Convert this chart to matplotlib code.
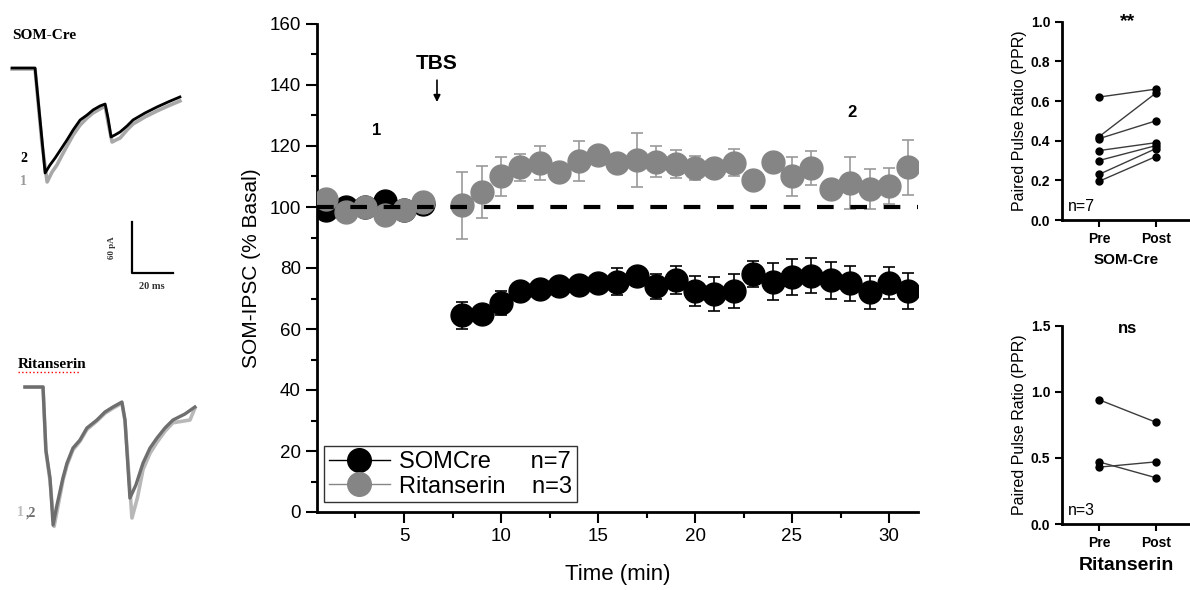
import matplotlib
matplotlib.use('Agg')
import matplotlib.pyplot as plt
from matplotlib.lines import Line2D

plt.rcParams['font.family'] = ['Liberation Sans', 'DejaVu Sans']

# time course (% basal)
times = [1, 2, 3, 4, 5, 6] + list(range(8, 32))
som_cre = [99, 100, 100, 102, 99, 101,
           64.5, 65, 68.5, 72.5, 73, 74, 74.5, 75, 75.5, 77.5, 74, 76,
           72.5, 71.5, 72.5, 78, 75.5, 77, 77.5, 76, 75, 72, 75, 72.5]
som_err = [1.5, 1.5, 1.5, 1.5, 1.5, 1.5,
           4.5, 2, 4, 2.5, 2, 2, 2, 3, 4.5, 2.5, 4, 4.5,
           5, 5.5, 5.5, 4.3, 6, 5.8, 5.8, 6, 5.7, 5.5, 5.3, 6]
ritan = [102.5, 98.5, 100, 97.5, 99, 101.5,
         100.5, 105, 110, 113, 114.5, 111.5, 115, 117, 114.3, 115.4, 114.9, 114.1,
         112.7, 112.7, 114.5, 108.9, 114.6, 110, 112.7, 106, 108, 105.8, 106.9, 113]
rit_err = [1.5, 1.5, 1.5, 1.5, 1.5, 1.5,
           11, 8.5, 6.5, 4.5, 5.5, 3, 6.5, 2, 3, 9, 5, 4.5,
           4, 3, 4.5, 2, 2, 6.5, 5.5, 2, 8.5, 6.5, 6, 9]

# paired pulse ratio
ppr_som_pre = [0.62, 0.42, 0.41, 0.35, 0.30, 0.23, 0.195]
ppr_som_post = [0.66, 0.64, 0.50, 0.39, 0.375, 0.36, 0.32]
ppr_rit_pre = [0.94, 0.47, 0.43]
ppr_rit_post = [0.77, 0.35, 0.47]

# example traces (ms, pA)
som_t2 = [0, 11.2, 12.7, 14.6, 16.1, 18.5, 21.0, 23.9, 26.8, 29.8, 33.2, 36.6, 39.5,
          42.9, 45.4, 46.8, 48.3, 50.2, 52.7, 56.1, 59.0, 64.9, 70.7, 76.1, 81.9]
som_i2 = [0, 0, -37.6, -84.7, -123.5, -114.1, -105.9, -95.3, -84.7, -72.9, -61.2, -55.3, -49.4,
          -44.7, -42.4, -58.8, -81.2, -78.8, -75.3, -68.2, -61.2, -52.9, -45.9, -40, -34.1]
som_t1 = [0, 11.2, 12.7, 14.6, 17.1, 19.5, 21.9, 24.4, 26.8, 29.8, 33.2, 36.6, 39.5,
          42.9, 45.4, 46.8, 48.8, 50.7, 52.7, 56.1, 59.0, 64.9, 70.7, 76.1, 81.9]
som_i1 = [-1.2, -1.2, -40, -89.4, -134.1, -122.4, -114.1, -102.4, -91.8, -78.8, -67.1, -58.8, -52.9,
          -48.2, -44.7, -63.5, -87.1, -84.7, -82.4, -72.9, -65.9, -57.6, -50.6, -44.7, -38.8]
rit_t2 = [0, 8.8, 10.2, 12.2, 13.7, 15.6, 18.5, 20.5, 23.4, 26.8, 30.2, 35.1, 39.0, 42.9,
          47.3, 48.8, 51.2, 54.1, 57.6, 61.0, 64.4, 68.3, 72.2, 78.0, 82.9]
rit_i2 = [0, 0, -74.1, -107.1, -162.4, -138.8, -107.1, -89.4, -71.8, -62.4, -48.2, -38.8, -29.4, -23.5,
          -17.6, -38.8, -130.6, -115.3, -89.4, -71.8, -60.0, -48.2, -38.8, -31.8, -23.5]
rit_t1 = [0, 8.8, 10.2, 12.2, 14.2, 16.1, 18.5, 20.5, 23.4, 26.8, 30.2, 35.1, 39.0, 42.9,
          47.3, 48.8, 52.2, 54.9, 57.6, 61.0, 64.4, 68.3, 72.2, 80.5, 82.9]
rit_i1 = [0, 0, -76, -110, -164, -140, -110, -92, -74, -64, -50, -40, -31, -25,
          -19, -40, -154.1, -130, -97, -78, -65, -52, -42, -38.8, -25]

fig = plt.figure(figsize=(11.9, 5.9), dpi=100)

# ---- traces
at = fig.add_axes([0, 290/590, 200/1190, 300/590])
at.plot(som_t1, som_i1, color='#a8a8a8', lw=2.6)
at.plot(som_t2, som_i2, color='black', lw=2.0)
at.plot([58.5, 58.5, 78.5], [-181, -241, -241], color='black', lw=1.6)
at.text(0, 38.8, 'SOM-Cre', family='Liberation Serif', weight='bold', fontsize=11, va='center')
at.text(3.9, -106, '2', family='Liberation Serif', weight='bold', fontsize=10, va='center')
at.text(3.9, -133, '1', family='Liberation Serif', weight='bold', fontsize=10, va='center', color='#999999')
at.text(48.8, -211, '60 pA', family='Liberation Serif', weight='bold', fontsize=6.5,
        rotation=90, ha='center', va='center', color='#333333')
at.text(68.3, -257.6, '20 ms', family='Liberation Serif', weight='bold', fontsize=7.5,
        ha='center', va='center', color='#333333')
at.set_xlim(-5.9, 91.7)
at.set_ylim(-273, 80)
at.axis('off')

ab = fig.add_axes([0, 0, 200/1190, 290/590])
ab.plot(rit_t1, rit_i1, color='#b8b8b8', lw=2.6)
ab.plot(rit_t2, rit_i2, color='#6e6e6e', lw=2.4)
ab.text(-3.4, 27, 'Ritanserin', family='Liberation Serif', weight='bold', fontsize=11, va='center')
ab.plot([-3.4, 26.8], [17.6, 17.6], color='red', lw=1, ls=':')
ab.text(-3.9, -148, '1', family='Liberation Serif', weight='bold', fontsize=10, va='center', color='#bbbbbb')
ab.text(0.4, -148, ',2', family='Liberation Serif', weight='bold', fontsize=10, va='center', color='#6e6e6e')
ab.set_xlim(-12.2, 85.4)
ab.set_ylim(-238.8, 102.4)
ab.axis('off')

# ---- time course
ax = fig.add_axes([316.7/1190, 78/590, 601.4/1190, 488/590])
ax.errorbar(times, som_cre, yerr=som_err, fmt='o', ms=16.5, color='black', mfc='black', mec='black',
            ecolor='black', elinewidth=1.2, capsize=4, capthick=1.2, zorder=3)
ax.errorbar(times, ritan, yerr=rit_err, fmt='o', ms=16.5, color='#858585', mfc='#858585', mec='#858585',
            ecolor='#999999', elinewidth=1.2, capsize=4, capthick=1.2, zorder=4)
ax.axhline(100, color='black', lw=3, ls=(0, (4, 4)), zorder=5)
ax.set_xlim(0.5, 31.5)
ax.set_ylim(0, 160)
ax.set_xticks([5, 10, 15, 20, 25, 30])
ax.set_xticks([2.5, 7.5, 12.5, 17.5, 22.5, 27.5], minor=True)
ax.set_yticks(range(0, 161, 20))
ax.set_yticks(range(10, 160, 20), minor=True)
ax.tick_params(labelsize=13.5, width=1.5, length=8)
ax.tick_params(which='minor', width=1.5, length=4)
for s in ['top', 'right']:
    ax.spines[s].set_visible(False)
for s in ['left', 'bottom']:
    ax.spines[s].set_linewidth(2)
ax.set_ylabel('SOM-IPSC (% Basal)', fontsize=15, labelpad=6)
ax.set_xlabel('Time (min)', fontsize=16, labelpad=14)
ax.annotate('', xy=(6.7, 133.5), xytext=(6.7, 142.5),
            arrowprops=dict(arrowstyle='-|>', color='black', lw=1.2, mutation_scale=10))
ax.text(6.7, 147, 'TBS', fontsize=15, weight='bold', ha='center', va='center')
ax.text(3.6, 125, '1', fontsize=12, weight='bold', ha='center', va='center')
ax.text(28.1, 131, '2', fontsize=12, weight='bold', ha='center', va='center')
handles = [Line2D([0], [0], color='black', lw=1, marker='o', ms=17),
           Line2D([0], [0], color='#858585', lw=1, marker='o', ms=17)]
leg = ax.legend(handles, ['SOMCre      n=7', 'Ritanserin    n=3'], loc='lower left',
                bbox_to_anchor=(0.012, 0.02), borderaxespad=0, fontsize=17, fancybox=False,
                edgecolor='black', handlelength=2.6, handletextpad=0.4, labelspacing=0.1,
                borderpad=0.2)
leg.get_frame().set_linewidth(1)


def ppr_panel(rect, pre, post, ymax, yticks, mark, mark_y, mark_fs, xlabel, xfs, ntext):
    a = fig.add_axes(rect)
    for p, q in zip(pre, post):
        a.plot([0, 1], [p, q], color='#3c3c3c', lw=1, marker='o', ms=5, mfc='black', mec='black')
    a.set_xlim(-0.65, 1.6)
    a.set_ylim(0, ymax)
    a.set_xticks([0, 1])
    a.set_xticklabels(['Pre', 'Post'], fontsize=10, weight='bold')
    a.set_yticks(yticks)
    a.set_yticklabels(['%.1f' % v for v in yticks], fontsize=10, weight='bold')
    a.tick_params(width=1.5, length=5)
    for s in ['top', 'right']:
        a.spines[s].set_visible(False)
    for s in ['left', 'bottom']:
        a.spines[s].set_linewidth(2)
    a.set_ylabel('Paired Pulse Ratio (PPR)', fontsize=11.5, labelpad=3)
    a.set_xlabel(xlabel, fontsize=xfs, weight='bold', labelpad=5)
    a.text(0.5, mark_y, mark, fontsize=mark_fs, weight='bold', ha='center', va='center')
    a.text(0.05, 0.03, ntext, fontsize=11.5, transform=a.transAxes, va='bottom')
    return a


ppr_panel([1062/1190, 370/590, 128/1190, 198.3/590], ppr_som_pre, ppr_som_post, 1.0,
          [0, 0.2, 0.4, 0.6, 0.8, 1.0], '**', 1.0, 14, 'SOM-Cre', 11, 'n=7')
ppr_panel([1062/1190, 66/590, 128/1190, 198.3/590], ppr_rit_pre, ppr_rit_post, 1.5,
          [0, 0.5, 1.0, 1.5], 'ns', 1.48, 12, 'Ritanserin', 14, 'n=3')

fig.savefig('out.png', dpi=100)
